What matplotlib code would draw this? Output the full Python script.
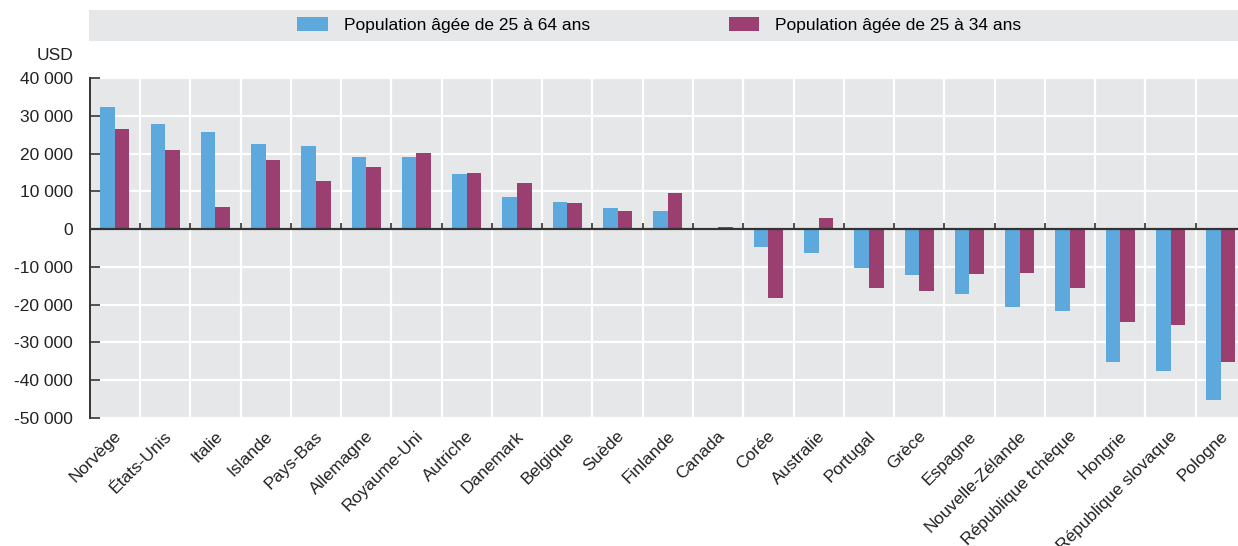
import numpy as np
import matplotlib
matplotlib.use("Agg")
import matplotlib.pyplot as plt
import matplotlib.transforms as mtransforms
from matplotlib.patches import Rectangle, Patch
from matplotlib.ticker import FuncFormatter

plt.rcParams["font.family"] = ["Liberation Sans", "DejaVu Sans"]

countries = ["Norvège", "États-Unis", "Italie", "Islande", "Pays-Bas", "Allemagne",
             "Royaume-Uni", "Autriche", "Danemark", "Belgique", "Suède", "Finlande",
             "Canada", "Corée", "Australie", "Portugal", "Grèce", "Espagne",
             "Nouvelle-Zélande", "République tchèque", "Hongrie", "République slovaque",
             "Pologne"]
pop_25_64 = [32300, 27800, 25700, 22500, 22000, 19100, 19100, 14500, 8500, 7300, 5600,
             4800, 0, -4700, -6300, -10200, -12100, -17200, -20600, -21600, -35100,
             -37500, -45200]
pop_25_34 = [26500, 20900, 5800, 18300, 12700, 16400, 20100, 14800, 12200, 6800, 4800,
             9500, 500, -18200, 2900, -15500, -16300, -11800, -11600, -15500, -24500,
             -25300, -35100]
series_labels = ["Population âgée de 25 à 64 ans", "Population âgée de 25 à 34 ans"]
yticks = [40000, 30000, 20000, 10000, 0, -10000, -20000, -30000, -40000, -50000]

BLUE = "#5DA9DD"
PURPLE = "#9B3E70"
BG = "#E6E7E9"
DARK = "#333333"
FS = 12.5

fig = plt.figure(figsize=(12.38, 5.46), dpi=100)
# axes runs a little past the right edge of the picture, like the reference
ax = fig.add_axes([89.7 / 1238, 1 - 418 / 546, (1246 - 89.7) / 1238, (418 - 78) / 546])
ax.set_facecolor(BG)

x = np.arange(len(countries))
w = 0.29
ax.bar(x - w / 2, pop_25_64, width=w, color=BLUE, zorder=3)
ax.bar(x + w / 2, pop_25_34, width=w, color=PURPLE, zorder=3)

ax.set_xlim(-0.5, len(countries) - 0.5)
ax.set_ylim(-50000, 40000)

# grid: white lines at category boundaries and y ticks
ax.set_xticks(np.arange(-0.5, len(countries)), minor=True)
ax.set_yticks(yticks)
ax.grid(which="minor", axis="x", color="white", linewidth=1.6, zorder=1)
ax.grid(which="major", axis="y", color="white", linewidth=1.6, zorder=1)
ax.tick_params(axis="x", which="minor", length=0)

ax.yaxis.set_major_formatter(FuncFormatter(lambda v, p: f"{v:,.0f}".replace(",", " ")))
ax.tick_params(axis="y", direction="in", length=7, width=1.2, color=DARK,
               labelsize=FS, labelcolor="#222", pad=12)

ax.set_xticks(x)
ax.set_xticklabels(countries, rotation=45, ha="right", va="top", rotation_mode="anchor",
                   fontsize=FS, color="#222")
ax.tick_params(axis="x", which="major", length=0, pad=7.5)
offset = mtransforms.ScaledTranslation(-1 / 100, 0, fig.dpi_scale_trans)
for lab in ax.get_xticklabels():
    lab.set_transform(lab.get_transform() + offset)

for s in ["top", "right", "bottom"]:
    ax.spines[s].set_visible(False)
ax.spines["left"].set_color(DARK)
ax.spines["left"].set_linewidth(1.4)
ax.spines["left"].set_zorder(5)

# zero line with small upward ticks at category boundaries
ax.axhline(0, color=DARK, linewidth=1.6, zorder=4)
trans = mtransforms.blended_transform_factory(ax.transData, ax.transAxes)
zero_frac = 50000 / 90000
ax.vlines(np.arange(0.5, len(countries) - 1), zero_frac, zero_frac + 0.018,
          transform=trans, color=DARK, linewidth=1.2, zorder=4)

fig.text(73 / 1238, 1 - 56 / 546, "USD", ha="right", va="center", fontsize=FS, color="#222")

# legend band
fig.patches.append(Rectangle((89 / 1238, 1 - 41 / 546), 1 - 89 / 1238, 31 / 546,
                             transform=fig.transFigure, facecolor=BG, edgecolor="none",
                             zorder=0))
handles = [Patch(facecolor=BLUE, label=series_labels[0]),
           Patch(facecolor=PURPLE, label=series_labels[1])]
fig.legend(handles=handles, loc="center left", bbox_to_anchor=(297 / 1238, 1 - 25 / 546),
           ncol=2, frameon=False, fontsize=FS, handlelength=1.78, handleheight=0.92,
           handletextpad=0.9, columnspacing=8.0, borderpad=0, borderaxespad=0)

fig.savefig("out.png", dpi=100)
